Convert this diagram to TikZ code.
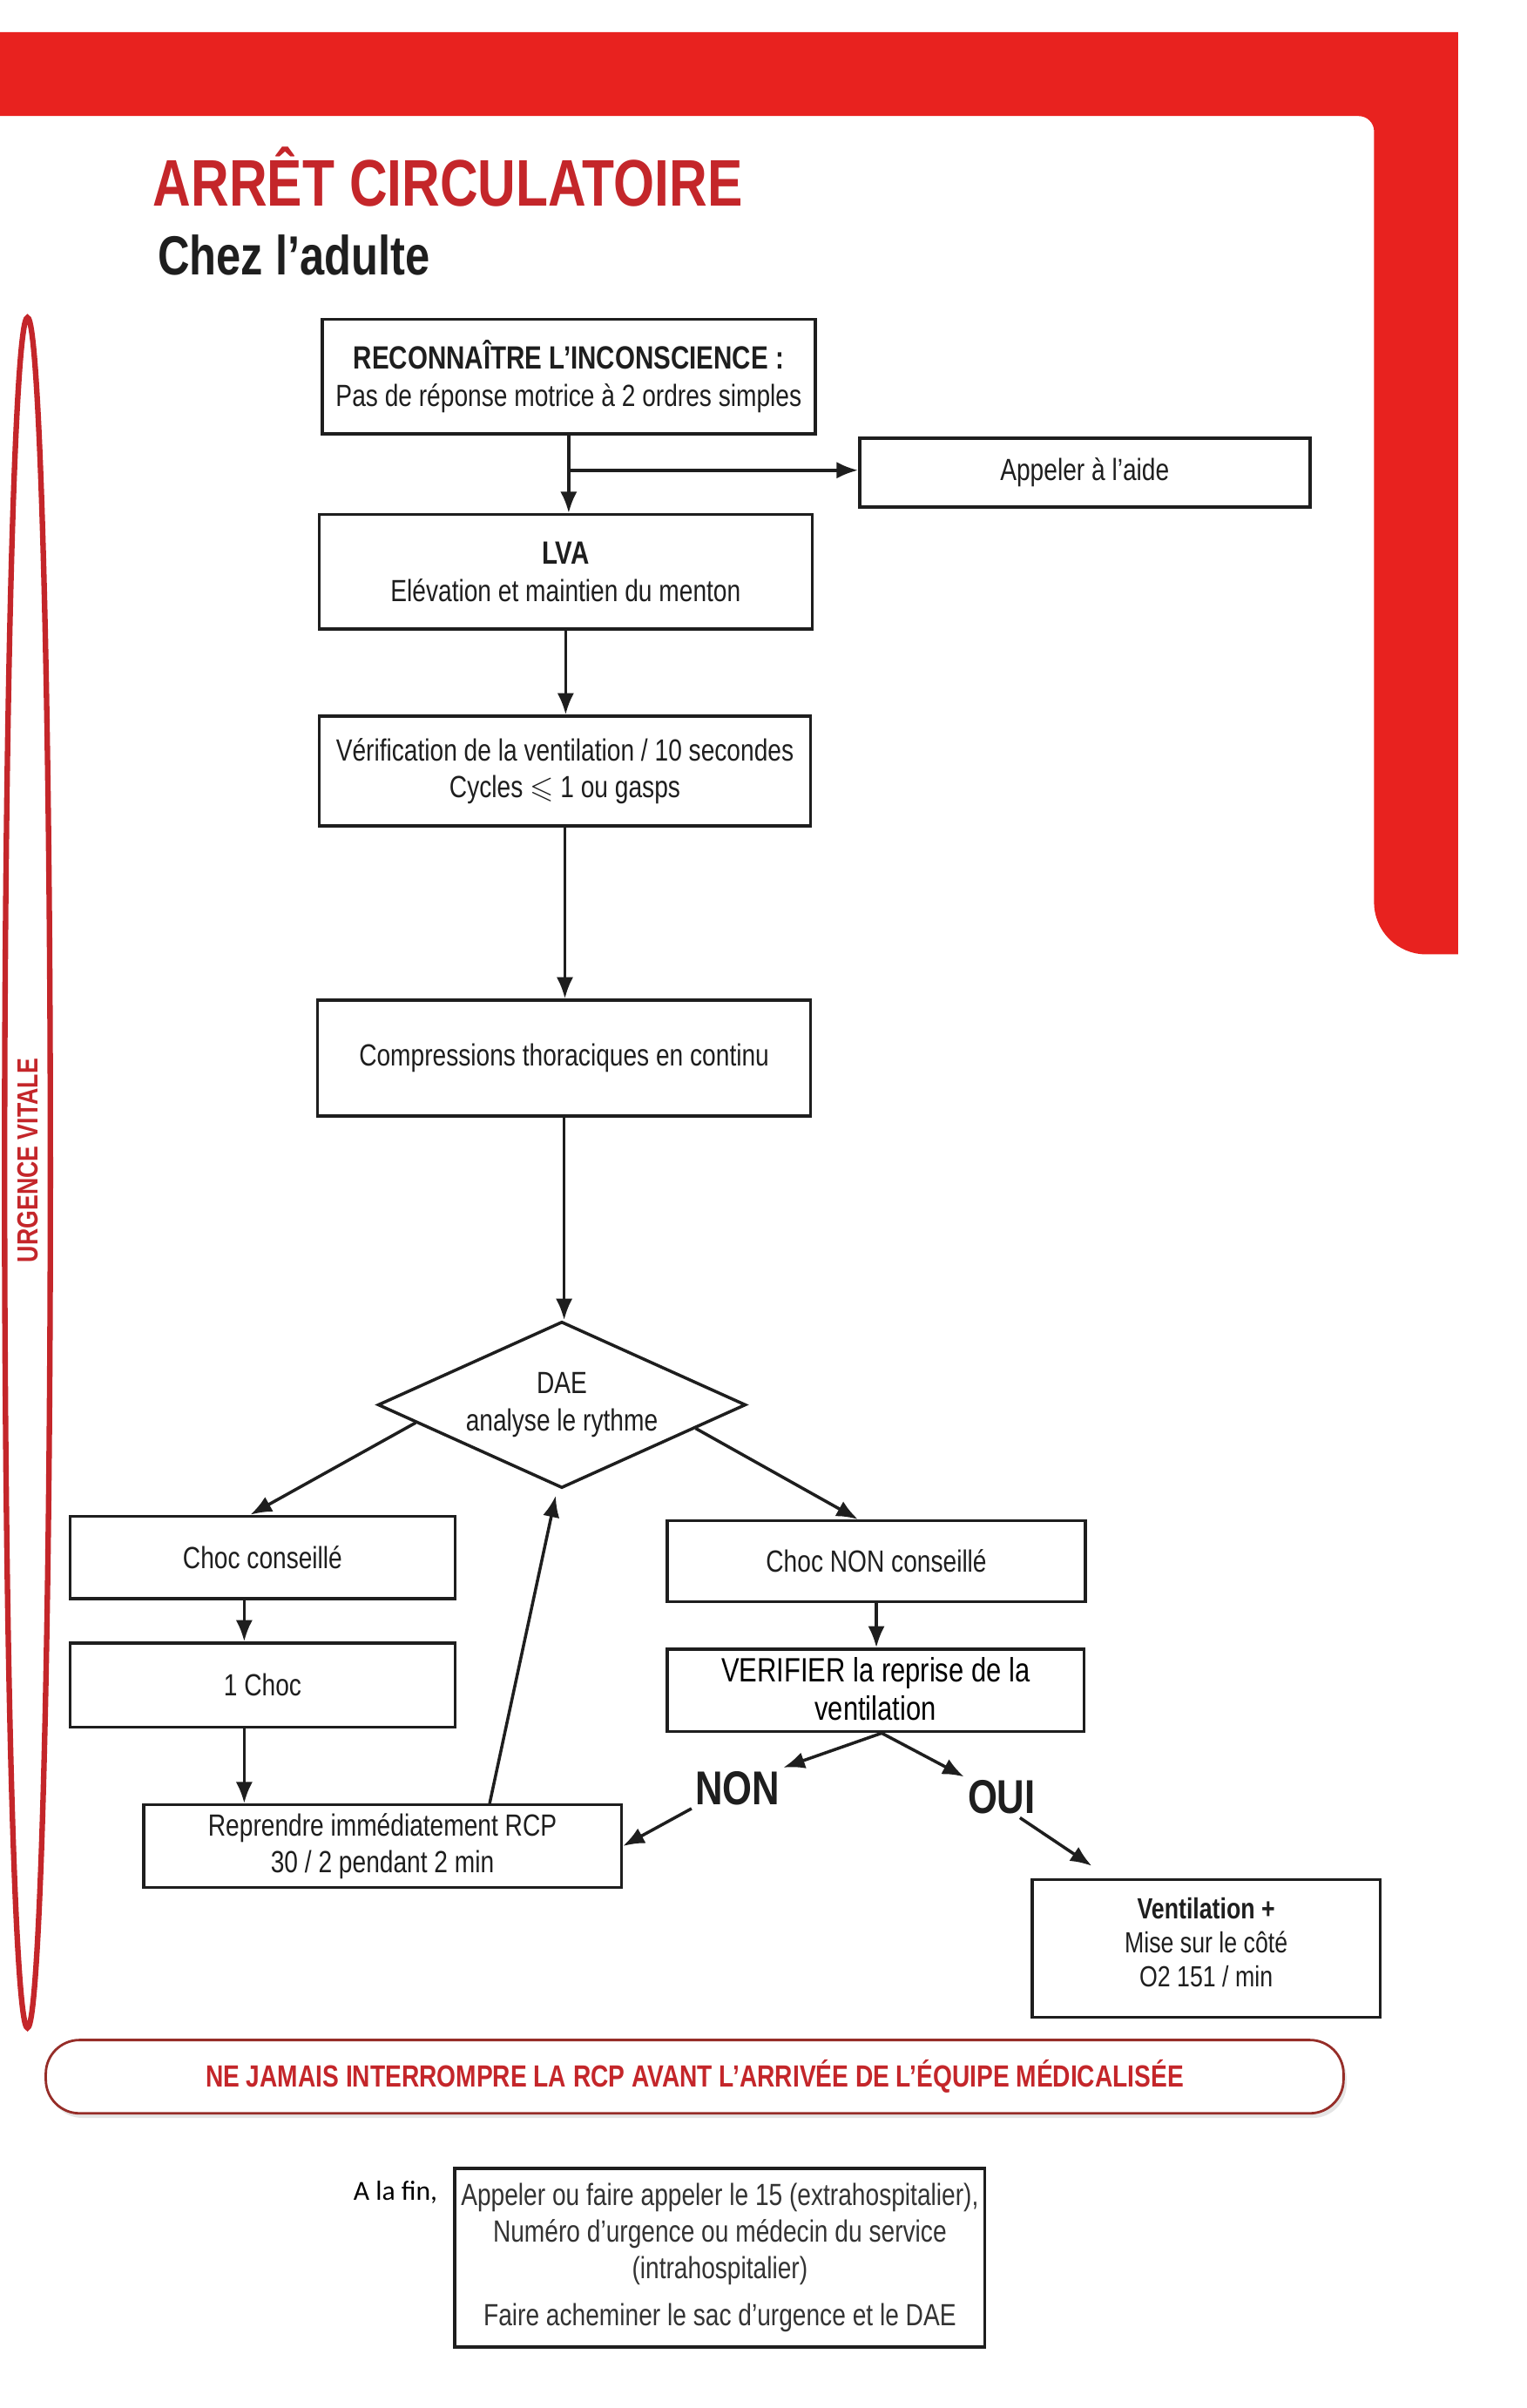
\documentclass[tikz,border=0pt]{standalone}
\usepackage{fontspec}
\usepackage{amssymb}
\setmainfont{Liberation Sans}[FakeStretch=0.8]
\newfontfamily\finfont{Carlito}
\usetikzlibrary{shapes.geometric,arrows.meta,shadows,calc}

\definecolor{bandred}{RGB}{232,34,31}
\definecolor{titlered}{RGB}{196,38,42}
\definecolor{inkgray}{RGB}{30,30,30}
\definecolor{capsred}{RGB}{150,45,40}

\newlength\px
\setlength\px{0.01752cm}

\tikzset{
  box/.style={draw=inkgray, line width=1pt, align=center, text=inkgray,
    font=\fontsize{10}{12}\selectfont, inner sep=2pt},
  arr/.style={draw=inkgray, line width=1pt, -{Latex[length=7pt,width=5.5pt]}},
  reply/.style={font=\bfseries\fontsize{15.5}{16}\selectfont, text=inkgray, inner sep=1pt},
}

\begin{document}
\begin{tikzpicture}[x=0.01752cm, y=-0.01752cm]
    \useasboundingbox[fill=white] (0,0) rectangle (1000,1577);

    % red frame top and right
    \fill[bandred] (0,21) -- (955,21) -- (955,625) [rounded corners=17pt] -- (900,625) [rounded corners=5pt] -- (900,76) [sharp corners] -- (0,76) -- cycle;

    % left band
    \draw[titlered, line width=1.8pt] (18,768) ellipse [x radius=15, y radius=560];
    \node[rotate=90, text=titlered, font=\bfseries\fontsize{9.5}{10}\selectfont] (urgence) at (18,760) {URGENCE VITALE};

    \node[anchor=base west, text=titlered, font=\bfseries\fontsize{21.5}{24}\selectfont, inner sep=0pt] (titre) at (100,135) {ARRÊT CIRCULATOIRE};
    \node[anchor=base west, text=inkgray, font=\bfseries\fontsize{18}{20}\selectfont, inner sep=0pt] (public) at (103,180) {Chez l'adulte};

    % boxes
    \node[box, minimum width=323\px, minimum height=75\px] (recon) at (372.5,246.5)
        {{\bfseries\fontsize{10.5}{12}\selectfont RECONNAÎTRE L'INCONSCIENCE :}\\Pas de réponse motrice à 2 ordres simples};
    \node[box, minimum width=295\px, minimum height=45\px] (aide) at (710.5,309.5) {Appeler à l'aide};
    \node[box, minimum width=323\px, minimum height=75\px] (lva) at (370.5,374.5)
        {{\bfseries\fontsize{10.5}{12}\selectfont LVA}\\Elévation et maintien du menton};
    \node[box, minimum width=322\px, minimum height=72\px] (verif) at (370,505)
        {Vérification de la ventilation / 10 secondes\\Cycles $\leqslant$ 1 ou gasps};
    \node[box, minimum width=323\px, minimum height=76\px] (compr) at (369.5,693) {Compressions thoraciques en continu};
    \node[box, shape=diamond, aspect=2.2, minimum width=241\px, minimum height=109\px, inner sep=0pt] (dae) at (368,920)
        {DAE\\analyse le rythme};
    \node[box, minimum width=252\px, minimum height=54\px] (choc) at (172,1020) {Choc conseillé};
    \node[box, minimum width=252\px, minimum height=55\px] (unchoc) at (172,1103.5) {1 Choc};
    \node[box, minimum width=313\px, minimum height=54\px] (rcp) at (250.5,1209)
        {Reprendre immédiatement RCP\\30 / 2 pendant 2 min};
    \node[box, minimum width=274\px, minimum height=53\px] (nonchoc) at (574,1022.5) {Choc NON conseillé};
    \node[box, minimum width=273\px, minimum height=54\px, text=black, font=\fontsize{11}{12.5}\selectfont, text depth=1pt] (reprise) at (573.5,1107)
        {VERIFIER la reprise de la\\ventilation};
    \node[box, minimum width=228\px, minimum height=90\px, font=\fontsize{9.5}{11}\selectfont, text depth=4pt] (ventil) at (790,1276)
        {{\bfseries Ventilation +}\\Mise sur le côté\\O2 151 / min};

    \node[reply] (non) at (483,1171) {NON};
    \node[reply] (oui) at (656,1177) {OUI};

    % connectors
    \draw[arr] (recon.south) -- (recon.south |- lva.north);
    \coordinate (branche) at ($(recon.south)!0.45!(recon.south |- lva.north)$);
    \draw[arr] (branche) -- (branche -| aide.west);
    \draw[arr] (lva.south) -- (lva.south |- verif.north);
    \draw[arr] (verif.south) -- (verif.south |- compr.north);
    \draw[arr] (compr.south) -- (compr.south |- dae.north);
    \draw[arr] (dae.187) -- ([xshift=-4pt]choc.north);
    \draw[arr] (dae.-10) -- ([xshift=-6pt]nonchoc.north);
    \draw[arr] ([xshift=-6pt]choc.south) -- ([xshift=-6pt]unchoc.north);
    \draw[arr] ([xshift=-6pt]unchoc.south) -- ([xshift=-6pt]unchoc.south |- rcp.north);
    \draw[arr] ([xshift=35pt]rcp.north) -- ([xshift=-2pt, yshift=-2pt]dae.south);
    \draw[arr] (nonchoc.south) -- (nonchoc.south |- reprise.north);
    \draw[arr] ([xshift=2pt]reprise.south) -- (non.north east);
    \draw[arr] ([xshift=2pt]reprise.south) -- (oui.north west);
    \draw[arr] (non.south west) -- (rcp.east);
    \draw[arr] ([xshift=6pt]oui.south) -- ([xshift=20pt, yshift=4pt]ventil.north west);

    % bottom message
    \node[draw=capsred, line width=0.8pt, rounded corners=11pt, fill=white,
          drop shadow={opacity=0.2, shadow xshift=1pt, shadow yshift=-1.5pt},
          minimum width=850\px, minimum height=48\px, text=titlered,
          font=\bfseries\fontsize{10}{12}\selectfont] (jamais) at (455,1360)
        {NE JAMAIS INTERROMPRE LA RCP AVANT L'ARRIVÉE DE L'ÉQUIPE MÉDICALISÉE};

    \node[box, minimum width=339\px, minimum height=117\px, text=black!80] (alerte) at (471.5,1478.5)
        {Appeler ou faire appeler le 15 (extrahospitalier),\\Numéro d'urgence ou médecin du service\\(intrahospitalier)\\[3.5pt]Faire acheminer le sac d'urgence et le DAE};
    \node[anchor=base, font=\finfont\fontsize{9}{10}\selectfont, inner sep=0pt] (fin) at (259,1441) {A la fin,};
\end{tikzpicture}
\end{document}
